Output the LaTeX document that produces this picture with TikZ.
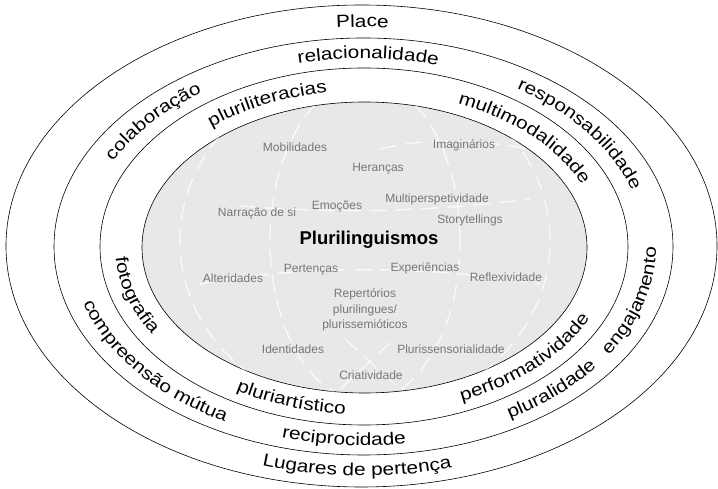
\documentclass[tikz,border=0pt]{standalone}
\usepackage{fontspec}
\setmainfont{Liberation Sans}
\newfontfamily\ringfamily{Liberation Sans}[FakeStretch=1.19]
\usepackage{tikz}
\usetikzlibrary{calc,decorations.text}
\definecolor{coreFill}{HTML}{E8E8E8}
\definecolor{termGray}{HTML}{777777}
\newcommand{\ringfont}{\ringfamily\fontsize{17.5}{21}\selectfont}
\tikzset{
  ring/.style   = {draw=black, line width=0.6pt},
  core/.style   = {ring, fill=coreFill},
  term/.style   = {inner sep=0pt, text=termGray, font=\fontsize{12}{15.5}\selectfont},
  hub/.style    = {inner sep=0pt, font=\bfseries\fontsize{18.5}{22}\selectfont},
  sketch/.style = {draw=white, line width=1.4pt, opacity=0.75, dash pattern=on 16pt off 10pt, line cap=round}
}
\newcommand{\TopLabel}[6]{%
  % label over the top of a ring (letters point outwards)
  \path[decorate,decoration={text along path,text align=center,text={|\ringfont|#6}}]
    ($#1+(#4+#5:#2 and #3)$) arc[start angle=#4+#5,end angle=#4-#5,x radius=#2,y radius=#3];
}
\newcommand{\BottomLabel}[6]{%
  % label along the lower part of a ring (letters point inwards)
  \path[decorate,decoration={text along path,text align=center,text={|\ringfont|#6}}]
    ($#1+(#4-#5:#2 and #3)$) arc[start angle=#4-#5,end angle=#4+#5,x radius=#2,y radius=#3];
}

\begin{document}
\begin{tikzpicture}[x=1pt,y=1pt]
    \useasboundingbox (0,0) rectangle (718,489);

    % rings
    \draw[ring] (361.5,243) ellipse[x radius=355.5,y radius=241];
    \draw[ring] (363.5,242.5) ellipse[x radius=309.5,y radius=208.5];
    \draw[ring] (364,242.5) ellipse[x radius=264,y radius=178.5];
    \draw[core] (364.5,241.5) ellipse[x radius=222.5,y radius=145.5];

    % white sketch lines on the core
    \begin{scope}
      \clip (364.5,241.5) ellipse[x radius=222.5,y radius=145.5];
      \draw[sketch] (365,248) ellipse[x radius=95,y radius=160];
      \draw[sketch] (365,248) ellipse[x radius=185,y radius=170];
      \draw[sketch] (200,205) .. controls (300,224) and (430,224) .. (540,205);
      \draw[sketch] (240,283) .. controls (330,276) and (420,276) .. (530,290);
      \draw[sketch] (380,340) .. controls (430,352) and (480,350) .. (540,338);
      \draw[sketch] (345,150) -- (400,100);
      \draw[sketch] (340,100) -- (392,148);
    \end{scope}

    % outer ring
    \TopLabel{(362.5,243)}{327}{219}{90}{12}{Place}
    \BottomLabel{(362.5,243)}{338}{230}{269}{24}{Lugares de pertença}

    % middle ring
    \TopLabel{(363.5,242.5)}{281}{188}{89}{22}{relacionalidade}
    \TopLabel{(363.5,242.5)}{281}{188}{140}{22}{colaboração}
    \TopLabel{(363.5,242.5)}{281}{188}{36}{27}{responsabilidade}
    \BottomLabel{(363.5,242.5)}{292.5}{199}{-16}{24}{engajamento}
    \BottomLabel{(363.5,242.5)}{292.5}{199}{-48}{18}{pluralidade}
    \BottomLabel{(363.5,242.5)}{292.5}{199}{266}{19}{reciprocidade}
    \BottomLabel{(363.5,242.5)}{292.5}{199}{218}{30}{compreensão mútua}

    % inner ring
    \TopLabel{(364.25,242)}{237.5}{156.5}{115}{22}{pluriliteracias}
    \TopLabel{(364.25,242)}{237.5}{156.5}{44}{29}{multimodalidade}
    \BottomLabel{(364.25,242)}{249}{167.5}{197}{21}{fotografia}
    \BottomLabel{(364.25,242)}{249}{167.5}{-45}{28}{performatividade}
    \BottomLabel{(364.25,242)}{249}{167.5}{252}{20}{pluriartístico}

    % core terms
    \node[hub]  (plur) at (369,249) {Plurilinguismos};
    \node[term] (mob)  at (295,342) {Mobilidades};
    \node[term] (imag) at (464,344) {Imaginários};
    \node[term] (her)  at (378,320) {Heranças};
    \node[term] (mult) at (437,290) {Multiperspetividade};
    \node[term] (narr) at (257,276) {Narração de si};
    \node[term] (emo)  at (337,283) {Emoções};
    \node[term] (story) at (470,269) {Storytellings};
    \node[term] (pert) at (311,219) {Pertenças};
    \node[term] (alt)  at (233,211) {Alteridades};
    \node[term] (exp)  at (425,221) {Experiências};
    \node[term] (refl) at (506,212) {Reflexividade};
    \node[term, align=center] (rep) at (365,179) {Repertórios\\plurilingues/\\plurissemióticos};
    \node[term] (ident) at (293,140) {Identidades};
    \node[term] (sens) at (451,140) {Plurissensorialidade};
    \node[term] (cria) at (371,114) {Criatividade};
\end{tikzpicture}
\end{document}
